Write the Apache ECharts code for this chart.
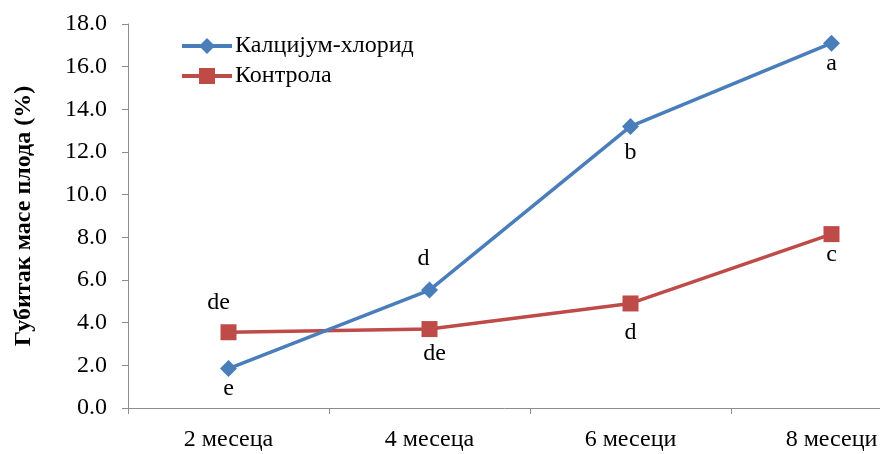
<!DOCTYPE html>
<html>
<head>
<meta charset="utf-8">
<script src="https://cdn.jsdelivr.net/npm/echarts@6/dist/echarts.min.js"></script>
<style>
  html, body { margin: 0; padding: 0; background: #fff; }
  #chart { width: 880px; height: 454px; }
</style>
</head>
<body>
<div id="chart"></div>
<script>
// Storage period and fruit weight loss (%)
const categories = ['2 месеца', '4 месеца', '6 месеци', '8 месеци'];
const seriesNames = ['Калцијум-хлорид', 'Контрола'];
const calciumValues = [1.85, 5.53, 13.2, 17.1];
const controlValues = [3.55, 3.7, 4.9, 8.15];
const calciumLetters = ['e', 'd', 'b', 'a'];
const controlLetters = ['de', 'de', 'd', 'c'];
const yTicks = [0, 2, 4, 6, 8, 10, 12, 14, 16, 18];

const FONT = "'Liberation Serif', 'Times New Roman', serif";
const FS = 24;

// placement of each significance letter around its marker
const calciumPlace = [
  { side: 'bottom', gap: 0, dx: 0 },
  { side: 'top', gap: 11, dx: -6 },
  { side: 'bottom', gap: 6, dx: 0 },
  { side: 'bottom', gap: 0, dx: 0 }
];
const controlPlace = [
  { side: 'top', gap: 10, dx: -10 },
  { side: 'bottom', gap: 5, dx: 5 },
  { side: 'bottom', gap: 9, dx: 0 },
  { side: 'bottom', gap: 1, dx: 0 }
];

function buildData(values, letters, place) {
  return values.map((v, i) => ({
    value: v,
    label: {
      show: true,
      formatter: letters[i],
      position: place[i].side,
      distance: place[i].gap,
      offset: [place[i].dx, 0]
    }
  }));
}

const chart = echarts.init(document.getElementById('chart'), null, { renderer: 'canvas' });

chart.setOption({
  animation: false,
  backgroundColor: '#ffffff',
  grid: {
    left: 128, top: 24, width: 804, height: 384,
    containLabel: false, outerBoundsMode: 'none'
  },
  legend: {
    left: 175,
    top: 29,
    orient: 'vertical',
    itemWidth: 50,
    itemHeight: 20,
    itemGap: 6,
    lineStyle: { width: 4 },
    textStyle: { fontFamily: FONT, fontSize: FS, color: '#000', padding: [0, 0, 0, -2] },
    data: seriesNames
  },
  xAxis: {
    type: 'category',
    data: categories,
    boundaryGap: true,
    axisLine: { lineStyle: { color: '#8c8c8c', width: 1 } },
    axisTick: { show: true, length: 6, lineStyle: { color: '#8c8c8c' } },
    axisLabel: { fontFamily: FONT, fontSize: FS, color: '#000', margin: 20 },
    splitLine: { show: false }
  },
  yAxis: {
    type: 'value',
    min: yTicks[0],
    max: yTicks[yTicks.length - 1],
    interval: 2,
    name: 'Губитак масе плода (%)',
    nameLocation: 'middle',
    nameGap: 92,
    nameTextStyle: { fontFamily: FONT, fontSize: FS, fontWeight: 'bold', color: '#000' },
    axisLine: { show: true, lineStyle: { color: '#8c8c8c', width: 1 } },
    axisTick: { show: true, length: 6, lineStyle: { color: '#8c8c8c' } },
    axisLabel: {
      fontFamily: FONT, fontSize: FS, color: '#000', margin: 21,
      formatter: v => v.toFixed(1)
    },
    splitLine: { show: false }
  },
  series: [
    {
      name: seriesNames[0],
      type: 'line',
      data: buildData(calciumValues, calciumLetters, calciumPlace),
      symbol: 'diamond',
      symbolSize: 17,
      lineStyle: { color: '#4A7EBB', width: 3.5 },
      itemStyle: { color: '#4A7EBB' },
      label: { fontFamily: FONT, fontSize: FS, color: '#000' },
      z: 3
    },
    {
      name: seriesNames[1],
      type: 'line',
      data: buildData(controlValues, controlLetters, controlPlace),
      symbol: 'rect',
      symbolSize: 16,
      lineStyle: { color: '#BE4B48', width: 3.5 },
      itemStyle: { color: '#BE4B48' },
      label: { fontFamily: FONT, fontSize: FS, color: '#000' },
      z: 2
    }
  ]
});
</script>
</body>
</html>
